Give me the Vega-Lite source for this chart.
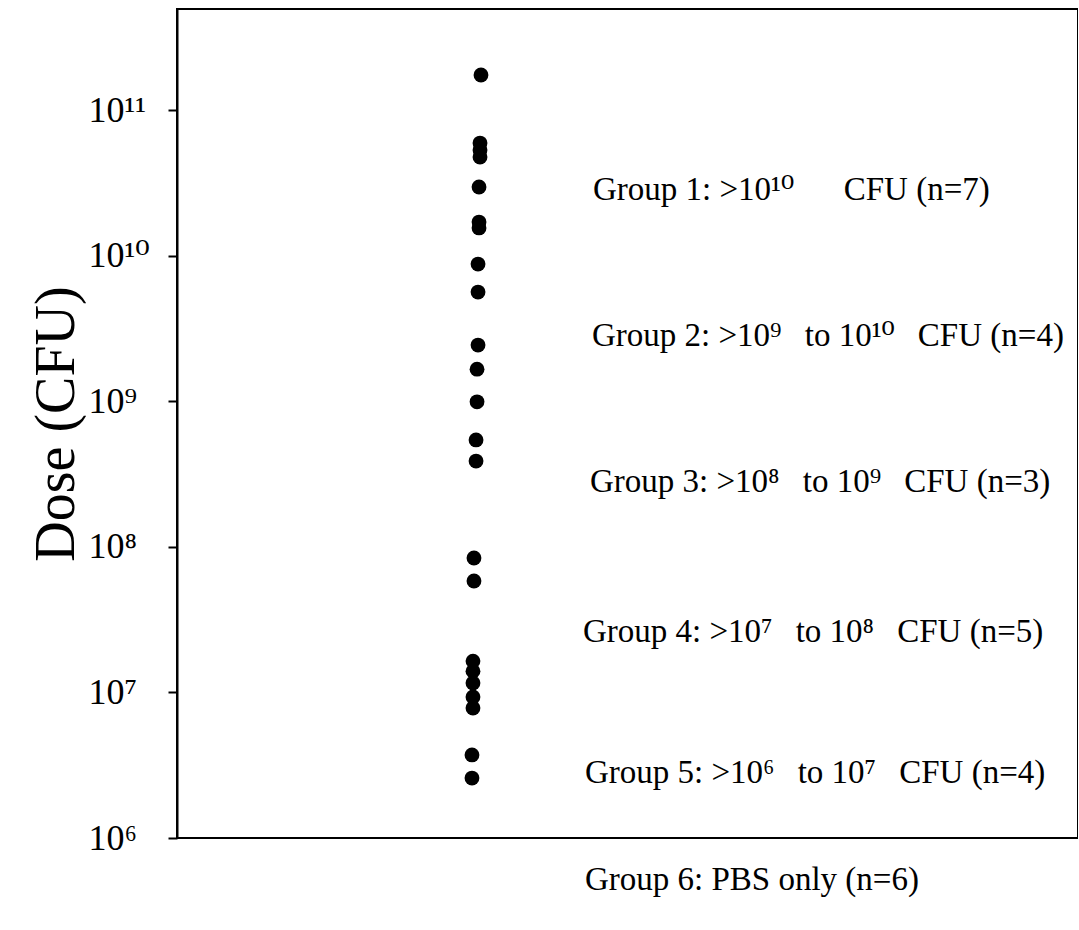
{
  "$schema": "https://vega.github.io/schema/vega-lite/v6.json",
  "autosize": "none",
  "width": 901,
  "height": 829,
  "padding": {"left": 177, "top": 9, "right": 0, "bottom": 92},
  "background": "white",
  "config": {
    "view": {"stroke": "black", "strokeWidth": 2},
    "font": "Liberation Serif, DejaVu Serif"
  },
  "datasets": {
    "doses": [
      {"x": 0.3374, "dose": 1.74e11},
      {"x": 0.3363, "dose": 5.93e10},
      {"x": 0.3363, "dose": 5.31e10},
      {"x": 0.3363, "dose": 4.75e10},
      {"x": 0.3352, "dose": 2.96e10},
      {"x": 0.3352, "dose": 1.70e10},
      {"x": 0.3352, "dose": 1.55e10},
      {"x": 0.3341, "dose": 8.75e9},
      {"x": 0.3341, "dose": 5.62e9},
      {"x": 0.3341, "dose": 2.43e9},
      {"x": 0.3330, "dose": 1.66e9},
      {"x": 0.3330, "dose": 9.9e8},
      {"x": 0.3319, "dose": 5.42e8},
      {"x": 0.3319, "dose": 3.88e8},
      {"x": 0.3296, "dose": 8.38e7},
      {"x": 0.3296, "dose": 5.82e7},
      {"x": 0.3285, "dose": 1.64e7},
      {"x": 0.3285, "dose": 1.40e7},
      {"x": 0.3285, "dose": 1.16e7},
      {"x": 0.3285, "dose": 9.3e6},
      {"x": 0.3285, "dose": 7.8e6},
      {"x": 0.3274, "dose": 3.72e6},
      {"x": 0.3274, "dose": 2.58e6}
    ],
    "groups": [
      {"x": 0.4617, "dose": 2.8e10, "label": "Group 1: >10¹⁰\u2003\u2002CFU (n=7)"},
      {"x": 0.4606, "dose": 2.8e9, "label": "Group 2: >10⁹\u2002\u2009to 10¹⁰\u2002\u2009CFU (n=4)"},
      {"x": 0.4584, "dose": 2.8e8, "label": "Group 3: >10⁸\u2002\u2009to 10⁹\u2002\u2009CFU (n=3)"},
      {"x": 0.4506, "dose": 2.6e7, "label": "Group 4: >10⁷\u2002\u2009to 10⁸\u2002\u2009CFU (n=5)"},
      {"x": 0.4528, "dose": 2.8e6, "label": "Group 5: >10⁶\u2002\u2009to 10⁷\u2002\u2009CFU (n=4)"},
      {"x": 0.4528, "dose": 5.15e5, "label": "Group 6: PBS only (n=6)"}
    ]
  },
  "layer": [
    {
      "data": {"name": "doses"},
      "mark": {"type": "circle", "color": "black", "opacity": 1, "size": 220},
      "encoding": {
        "x": {"field": "x", "type": "quantitative", "scale": {"domain": [0, 1], "nice": false, "zero": false}, "axis": null},
        "y": {
          "field": "dose", "type": "quantitative",
          "scale": {"type": "log", "domain": [1e6, 4.94e11], "nice": false},
          "axis": {
            "title": "Dose (CFU)",
            "values": [1e6, 1e7, 1e8, 1e9, 1e10, 1e11],
            "labelExpr": "datum.value == 1e6 ? '10⁶' : datum.value == 1e7 ? '10⁷' : datum.value == 1e8 ? '10⁸' : datum.value == 1e9 ? '10⁹' : datum.value == 1e10 ? '10¹⁰' : '10¹¹'",
            "labelFont": "Liberation Serif, DejaVu Serif",
            "labelFontSize": 36,
            "labelColor": "black",
            "labelAlign": "left",
            "labelPadding": 80,
            "labelBaseline": "middle",
            "tickSize": 9,
            "tickColor": "black",
            "tickWidth": 2,
            "domainColor": "black",
            "domainWidth": 2,
            "grid": false,
            "titleFont": "Liberation Serif",
            "titleFontSize": 56,
            "titleFontWeight": "normal",
            "titleColor": "black",
            "titlePadding": 3
          }
        }
      }
    },
    {
      "data": {"name": "groups"},
      "mark": {"type": "text", "align": "left", "baseline": "middle", "font": "Liberation Serif, DejaVu Serif", "fontSize": 33, "color": "black"},
      "encoding": {
        "x": {"field": "x", "type": "quantitative"},
        "y": {"field": "dose", "type": "quantitative"},
        "text": {"field": "label"}
      }
    }
  ]
}
